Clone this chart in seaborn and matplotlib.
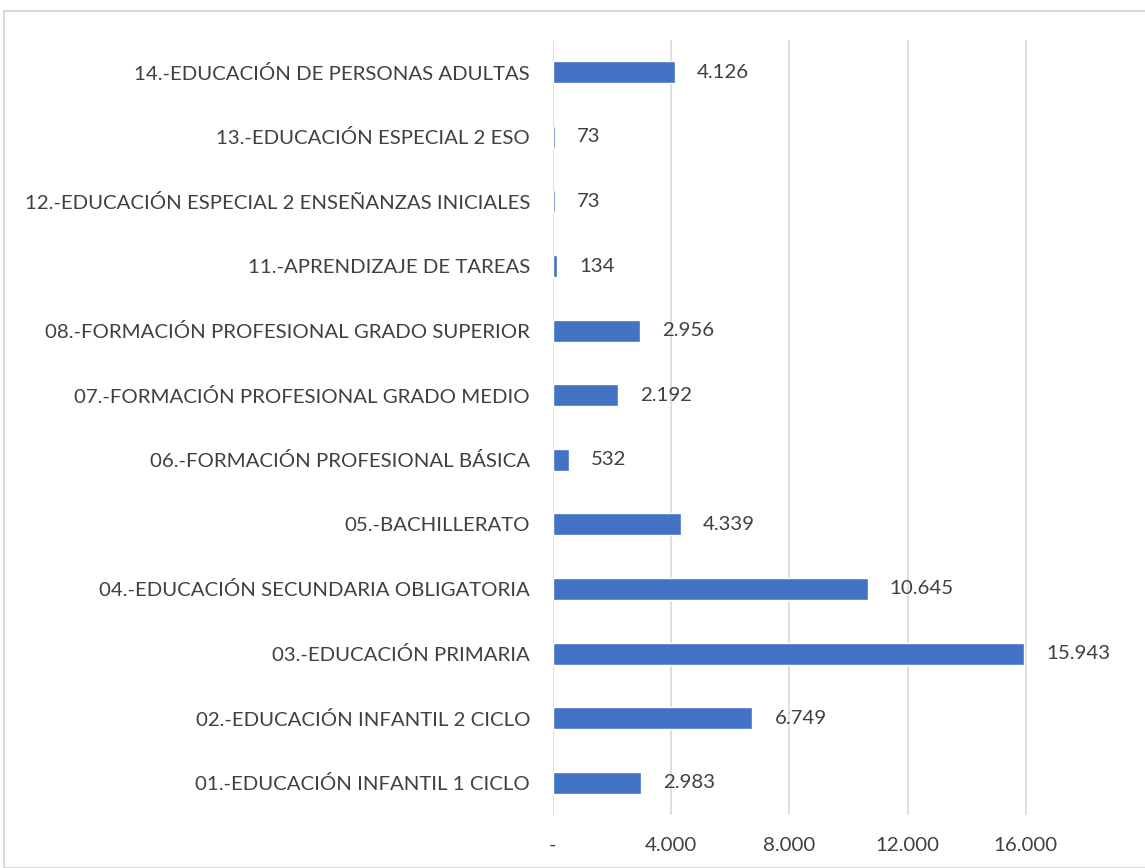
import matplotlib.pyplot as plt
import pandas as pd
import seaborn as sns
from matplotlib.patches import Rectangle

etapas = ["14.-EDUCACIÓN DE PERSONAS ADULTAS",
          "13.-EDUCACIÓN ESPECIAL 2 ESO",
          "12.-EDUCACIÓN ESPECIAL 2 ENSEÑANZAS INICIALES",
          "11.-APRENDIZAJE DE TAREAS",
          "08.-FORMACIÓN PROFESIONAL GRADO SUPERIOR",
          "07.-FORMACIÓN PROFESIONAL GRADO MEDIO",
          "06.-FORMACIÓN PROFESIONAL BÁSICA",
          "05.-BACHILLERATO",
          "04.-EDUCACIÓN SECUNDARIA OBLIGATORIA",
          "03.-EDUCACIÓN PRIMARIA",
          "02.-EDUCACIÓN INFANTIL 2 CICLO",
          "01.-EDUCACIÓN INFANTIL 1 CICLO"]

alumnos = [4126, 73, 73, 134, 2956, 2192, 532, 4339, 10645, 15943, 6749, 2983]

ticks = [0, 4000, 8000, 12000, 16000]
tick_labels = ["-", "4.000", "8.000", "12.000", "16.000"]

df = pd.DataFrame({"etapa": etapas, "alumnos": alumnos})

sns.set_style("white")
plt.rcParams["font.family"] = ["Lato", "DejaVu Sans"]
text_color = "#404040"

fig = plt.figure(figsize=(11.45, 8.68), dpi=100)
W, H = 1145, 868

# chart frame (cropped excel chart)
fig.patches.append(Rectangle((4 / W, 0), 1.2, 1 - 11 / H, transform=fig.transFigure,
                             fill=False, edgecolor="#D9D9D9", linewidth=1.5))

ax = fig.add_axes([553 / W, 1 - 815 / H, (1144 - 553) / W, (815 - 40) / H])

sns.barplot(data=df, x="alumnos", y="etapa", orient="h", color="#4472C4",
            width=0.34, saturation=1, ax=ax)

ax.set_xlim(0, 20000)
ax.set_ylim(11.5, -0.5)
ax.set_xticks(ticks)
ax.set_xticklabels(tick_labels)
ax.grid(axis="x", color="#D9D9D9", linewidth=1.2)
ax.set_axisbelow(True)
for s in ax.spines.values():
    s.set_visible(False)
ax.set_xlabel("")
ax.set_ylabel("")
ax.tick_params(axis="both", length=0, labelsize=14.7, colors=text_color)
ax.tick_params(axis="x", pad=15.5)
ax.tick_params(axis="y", pad=16.5)

for i, v in enumerate(alumnos):
    ax.annotate(f"{v:,}".replace(",", "."), (v, i), xytext=(22, 0),
                textcoords="offset pixels", va="center", ha="left",
                fontsize=14.7, color=text_color)

fig.savefig("out.png", dpi=100)
